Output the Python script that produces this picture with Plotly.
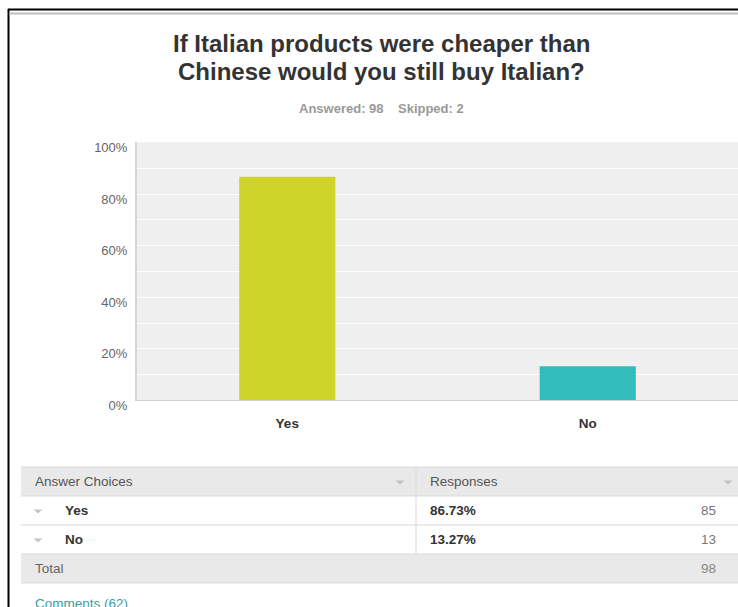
import plotly.graph_objects as go

# Survey question and response summary
question_lines = ["If Italian products were cheaper than", "Chinese would you still buy Italian?"]
answered = 98
skipped = 2
choices = ["Yes", "No"]
percentages = [86.73, 13.27]
counts = [85, 13]
total = 98
comments = 62
bar_colors = ["#cfd42a", "#32bcbc"]
y_ticks = [0, 20, 40, 60, 80, 100]
y_tick_text = ["{}%".format(v) for v in y_ticks]

W, H = 738, 607
FONT = "Liberation Sans, Arial, sans-serif"


def px(x):
    return x / W


def py(y):
    return 1 - y / H


fig = go.Figure()
fig.add_trace(go.Bar(
    x=choices,
    y=percentages,
    marker=dict(color=bar_colors, line=dict(width=0)),
    width=0.32,
    hoverinfo="skip",
))

shapes = []
annotations = []


def rect(x0, y0, x1, y1, fill):
    shapes.append(dict(
        type="rect", xref="paper", yref="paper",
        x0=px(x0), x1=px(x1), y0=py(y1), y1=py(y0),
        fillcolor=fill, line=dict(width=0), layer="below",
    ))


def hline(x0, x1, y, color, width=1):
    shapes.append(dict(type="line", xref="paper", yref="paper",
                       x0=px(x0), x1=px(x1), y0=py(y), y1=py(y),
                       line=dict(color=color, width=width)))


def vline(x, y0, y1, color, width=1):
    shapes.append(dict(type="line", xref="paper", yref="paper",
                       x0=px(x), x1=px(x), y0=py(y0), y1=py(y1),
                       line=dict(color=color, width=width)))


def caret(cx, cy, color="#c4c4c4", w=9, h=4):
    path = "M {} {} L {} {} L {} {} Z".format(
        px(cx - w / 2), py(cy - h / 2), px(cx + w / 2), py(cy - h / 2), px(cx), py(cy + h / 2))
    shapes.append(dict(type="path", xref="paper", yref="paper", path=path,
                       fillcolor=color, line=dict(width=0)))


def text(x, y, s, size=13.5, color="#555", bold=False, xanchor="left"):
    annotations.append(dict(
        x=px(x), y=py(y), xref="paper", yref="paper",
        text="<b>{}</b>".format(s) if bold else s,
        showarrow=False, xanchor=xanchor, yanchor="middle",
        font=dict(family=FONT, size=size, color=color),
    ))


# Page frame
vline(8.5, 9, H, "#000000", 2)
hline(8, W, 9.5, "#000000", 2)
hline(9.5, W, 13.5, "#bdbdbd", 2)

# Question heading and answer summary
text(381, 44, question_lines[0], size=24, color="#333333", bold=True, xanchor="center")
text(381, 72, question_lines[1], size=24, color="#333333", bold=True, xanchor="center")
text(381, 108, "Answered: {}&nbsp;&nbsp;&nbsp;&nbsp;Skipped: {}".format(answered, skipped),
     size=13, color="#999999", bold=True, xanchor="center")

# Response table
tbl_left, tbl_right = 21, W
col_split = 416
header_top, row_h = 467, 29.
rows_top = header_top + row_h
rect(tbl_left, header_top, tbl_right, rows_top, "#e9e9e9")
total_top = rows_top + row_h * len(choices)
rect(tbl_left, total_top, tbl_right, total_top + row_h, "#e9e9e9")
for i in range(len(choices) + 3):
    hline(tbl_left, tbl_right, header_top + i * row_h, "#d9d9d9", 1)
vline(col_split, header_top, total_top, "#d9d9d9", 1)

text(33, header_top + row_h / 2, "Answer Choices", color="#555555")
text(428, header_top + row_h / 2, "Responses", color="#555555")
caret(400, header_top + row_h / 2 + 1)
caret(728, header_top + row_h / 2 + 1)

for i, (name, pct, n) in enumerate(zip(choices, percentages, counts)):
    cy = rows_top + row_h * i + row_h / 2
    caret(38, cy + 1)
    text(63, cy, name, color="#333333", bold=True)
    text(428, cy, "{:.2f}%".format(pct), color="#333333", bold=True)
    text(718, cy, str(n), color="#777777", xanchor="right")

text(33, total_top + row_h / 2, "Total", color="#666666")
text(718, total_top + row_h / 2, str(total), color="#888888", xanchor="right")

text(33, 603, "Comments ({})".format(comments), color="#3a9ea5")

fig.update_layout(
    width=W, height=H,
    margin=dict(l=0, r=0, t=0, b=0, autoexpand=False),
    paper_bgcolor="#ffffff",
    plot_bgcolor="#efefef",
    showlegend=False,
    shapes=shapes,
    annotations=annotations,
    font=dict(family=FONT),
    xaxis=dict(
        domain=[px(137), 1.0],
        range=[-0.5, 1.5],
        showgrid=False,
        showline=True, linecolor="#cfcfcf", linewidth=1,
        ticks="", ticklabelstandoff=10,
        tickfont=dict(family=FONT, size=13.5, color="#333333", weight="bold"),
        fixedrange=True,
    ),
    yaxis=dict(
        domain=[py(400.4), py(142.4)],
        range=[0, 100],
        tickmode="array",
        tickvals=y_ticks,
        ticktext=y_tick_text,
        showgrid=True, gridcolor="#ffffff", gridwidth=1,
        minor=dict(dtick=10, showgrid=True, gridcolor="#ffffff", gridwidth=1),
        zeroline=False,
        showline=True, linecolor="#d6d6d6", linewidth=2,
        ticks="", ticklabelstandoff=5, ticklabelshift=5,
        tickfont=dict(family=FONT, size=13, color="#666666"),
        fixedrange=True,
    ),
)

fig.write_html("out.html", config={"displayModeBar": False})
